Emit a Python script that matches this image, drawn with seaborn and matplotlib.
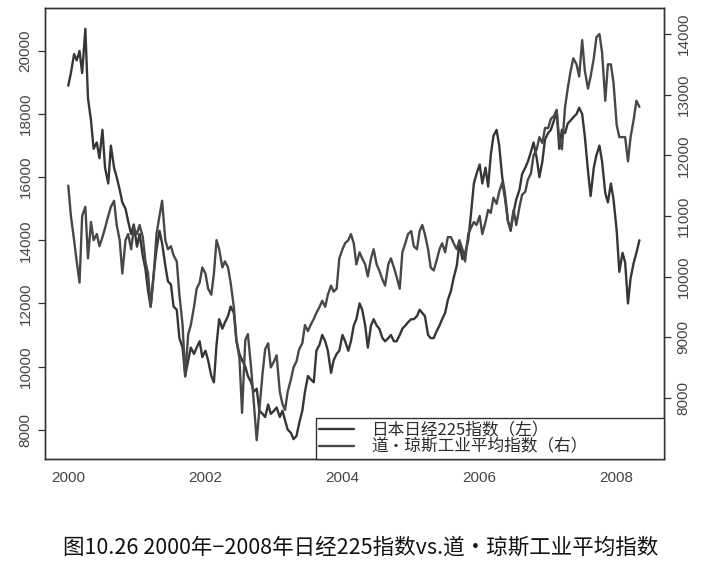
# Imports
import numpy as np
import pandas as pd
import seaborn as sns
import matplotlib.pyplot as plt

# Nikkei 225 (left axis), twice a month, Jan 2000 - May 2008
nikkei = [
    18900, 19300, 19900, 19700, 20000, 19300, 20700, 18500, 17800, 16900, 17100, 16600,
    17500, 16300, 15800, 17000, 16300, 16000, 15600, 15200, 15000, 14600, 14200, 14500,
    13800, 14200, 13500, 13100, 12400, 11900, 13000, 13700, 14300, 13900, 13200, 12700,
    12600, 11900, 11800, 10900, 10600, 9700, 10200, 10600, 10400, 10600, 10800, 10300,
    10500, 10200, 9700, 9500, 10700, 11500, 11200, 11400, 11600, 11900, 11700, 10800,
    10400, 10200, 10000, 9700, 9500, 9200, 9300, 8600, 8500, 8400, 8800, 8500,
    8600, 8700, 8400, 8600, 8300, 8000, 7900, 7700, 7800, 8200, 8600, 9200,
    9700, 9600, 9500, 10500, 10700, 11000, 10800, 10500, 9800, 10200, 10400, 10500,
    11000, 10800, 10500, 10800, 11300, 11500, 12000, 11800, 11300, 10600, 11300, 11500,
    11300, 11200, 10900, 10800, 10900, 11000, 10800, 10800, 11000, 11200, 11300, 11400,
    11500, 11500, 11600, 11800, 11700, 11600, 11000, 10900, 10900, 11100, 11300, 11500,
    11700, 12100, 12400, 12800, 13200, 13900, 13400, 13600, 14000, 14800, 15800, 16100,
    16400, 15800, 16300, 15700, 16700, 17300, 17500, 17000, 16000, 15500, 14600, 14300,
    14900, 15300, 15600, 16100, 16300, 16500, 16800, 17100, 16600, 16000, 16500, 17200,
    17400, 17500, 17800, 18100, 16900, 17500, 17400, 17700, 17800, 17900, 18000, 18200,
    18000, 17300, 16200, 15400, 16300, 16700, 17000, 16500, 15500, 15200, 15800, 15300,
    14300, 13000, 13600, 13300, 12000, 12800, 13300, 13600, 14000,
]

# Dow Jones Industrial Average (right axis), same dates
dow = [
    11500, 11000, 10600, 10250, 9900, 11000, 11150, 10300, 10900, 10600, 10700, 10500,
    10650, 10800, 11000, 11150, 11250, 10850, 10600, 10050, 10600, 10700, 10450, 10800,
    10700, 10850, 10650, 10250, 10050, 9500, 10050, 10700, 11000, 11250, 10600, 10450,
    10500, 10350, 10250, 9700, 9200, 8350, 9050, 9200, 9500, 9800, 9900, 10150,
    10050, 9800, 9700, 10050, 10600, 10450, 10150, 10250, 10150, 9900, 9500, 8950,
    8650, 7750, 8950, 9050, 8500, 7950, 7300, 7800, 8400, 8800, 8900, 8500,
    8600, 8700, 8100, 7900, 7800, 8100, 8300, 8500, 8600, 8800, 8900, 9200,
    9100, 9200, 9300, 9400, 9500, 9600, 9500, 9700, 9850, 9750, 9800, 10300,
    10450, 10550, 10600, 10700, 10550, 10200, 10400, 10300, 10200, 10000, 10300, 10450,
    10200, 10100, 9950, 9850, 10200, 10300, 10150, 10000, 9800, 10400, 10550, 10700,
    10750, 10500, 10450, 10750, 10850, 10700, 10450, 10150, 10100, 10250, 10450, 10550,
    10400, 10650, 10650, 10550, 10450, 10600, 10450, 10250, 10700, 10800, 10900, 10850,
    11000, 10700, 10900, 11100, 11050, 11300, 11200, 11400, 11550, 11300, 10900, 10800,
    11100, 10850, 11150, 11350, 11400, 11600, 11700, 12000, 12100, 12300, 12200, 12450,
    12450, 12600, 12650, 12750, 12250, 12100, 12800, 13100, 13400, 13600, 13500, 13300,
    13900, 13400, 13100, 13300, 13600, 13950, 14000, 13700, 12900, 13500, 13500, 13200,
    12500, 12300, 12300, 12300, 11900, 12300, 12600, 12900, 12800,
]

labels = ['日本日经225指数（左）', '道・琼斯工业平均指数（右）']
caption = '图10.26 2000年−2008年日经225指数vs.道・琼斯工业平均指数'
year_ticks = [2000, 2002, 2004, 2006, 2008]
left_ticks = [8000, 10000, 12000, 14000, 16000, 18000, 20000]
right_ticks = [8000, 9000, 10000, 11000, 12000, 13000, 14000]

dates = pd.date_range('2000-01-01', '2008-05-01', freq='SMS')
df = pd.DataFrame({'date': dates, 'nikkei': nikkei, 'dow': dow})

sns.set_style('white')
plt.rcParams['font.family'] = ['Liberation Sans', 'Noto Sans CJK SC', 'DejaVu Sans']

fig = plt.figure(figsize=(7.13, 5.70), dpi=100)
ax = fig.add_axes([45/713, 1 - 459/570, (664 - 45)/713, (459 - 8)/570])

sns.lineplot(data=df, x='date', y='nikkei', ax=ax, color='#363636', lw=1.7, legend=False)
ax2 = ax.twinx()
sns.lineplot(data=df, x='date', y='dow', ax=ax2, color='#484848', lw=1.7, legend=False)

# Axes limits and ticks
ax.set_xlim(pd.Timestamp('1999-08-30'), pd.Timestamp('2008-09-09'))
ax.set_xticks([pd.Timestamp(f'{y}-01-01') for y in year_ticks])
ax.set_xticklabels([str(y) for y in year_ticks])
ax.set_ylim(7070, 21360)
ax.set_yticks(left_ticks)
ax.set_yticklabels([str(v) for v in left_ticks], rotation=90, va='center')
ax2.set_ylim(6990, 14430)
ax2.set_yticks(right_ticks)
ax2.set_yticklabels([str(v) for v in right_ticks], rotation=90, va='center')

for a in (ax, ax2):
    a.set_xlabel('')
    a.set_ylabel('')
    a.tick_params(direction='out', length=5, width=0.9, color='#333333',
                  labelsize=11, labelcolor='#444444', pad=4)
    for s in a.spines.values():
        s.set_color('#333333')
        s.set_linewidth(1.0)

# Legend
handles = [ax.lines[0], ax2.lines[0]]
leg = ax2.legend(handles, labels, loc='lower left', mode='expand',
                 bbox_to_anchor=((316 - 45)/619, 0, 1 - (316 - 45)/619, 0.1),
                 borderaxespad=0, frameon=True, fancybox=False, edgecolor='#333333',
                 framealpha=1, prop={'family': ['Noto Sans CJK SC', 'DejaVu Sans'], 'size': 12},
                 handlelength=2.1, labelspacing=0.0, borderpad=0.2, handletextpad=1.0)
leg.get_frame().set_linewidth(1.0)
for t in leg.get_texts():
    t.set_color('#2a2a2a')

# Caption
fig.text(0.506, 1 - 548/570, caption, ha='center', va='center', fontsize=15.5,
         family=['Noto Sans CJK SC', 'DejaVu Sans'], weight='medium', color='#111111')

fig.savefig('out.png', dpi=100)
